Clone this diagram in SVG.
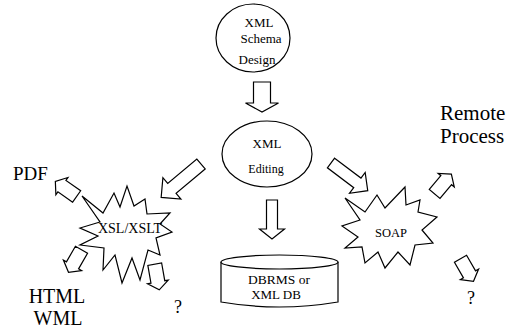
<svg xmlns="http://www.w3.org/2000/svg" width="516" height="329" viewBox="0 0 516 329">
<style>
.s{fill:#fff;stroke:#000;stroke-width:1.2;stroke-linejoin:miter}
.t{font-family:"Liberation Serif","Times New Roman",serif;fill:#000;text-anchor:middle}
.lbl{font-family:"Liberation Serif","Times New Roman",serif;fill:#000}
</style>
<defs>
<path id="sm" d="M-13,-7 H5 V-10.5 L13,0 L5,10.5 V7 H-13 Z"/>
</defs>
<rect width="516" height="329" fill="#fff"/>
<g id="schema">
<ellipse class="s" cx="253" cy="38" rx="37" ry="34"/>
<text class="t" x="259" y="27" font-size="13">XML</text>
<text class="t" x="261" y="43" font-size="13">Schema</text>
<text class="t" x="257" y="64" font-size="13">Design</text>
</g>
<g id="editing">
<ellipse class="s" cx="267" cy="154" rx="45" ry="33"/>
<text class="t" x="267" y="148" font-size="13">XML</text>
<text class="t" x="266" y="173" font-size="12">Editing</text>
</g>
<g id="db">
<path class="s" d="M221,262 V302 Q279,312 338,302 V262"/>
<ellipse class="s" cx="279.5" cy="262" rx="58.5" ry="7"/>
<text class="t" x="279" y="284" font-size="13.5">DBRMS or</text>
<text class="t" x="276" y="299" font-size="13">XML DB</text>
</g>
<g id="xsl">
<polygon class="s" points="82,196 103,213 114,193 120,207 127,186 134,206 145,199 147,214 170,213 160,224 172,232 156,238 160,255 148,250 140,280 132,258 122,283 115,255 103,270 104,248 80,245 98,236 80,228 100,222"/>
<text class="t" x="130" y="233" font-size="14">XSL/XSLT</text>
</g>
<g id="soap">
<polygon class="s" points="345,198 365,212 377,195 385,208 405,187 406,205 420,200 418,212 437,217 422,230 433,243 415,245 410,265 398,252 385,268 378,252 365,263 362,247 345,248 358,237 342,226 360,220"/>
<text class="t" x="391" y="237" font-size="12.5">SOAP</text>
</g>
<g id="pdf"><text class="lbl" x="13" y="180" font-size="19">PDF</text></g>
<g id="html"><text class="t" x="57" y="303" font-size="20">HTML</text><text class="t" x="58" y="325" font-size="20">WML</text></g>
<g id="q1"><text class="t" x="178" y="313" font-size="18">?</text></g>
<g id="remote"><text class="lbl" x="440" y="120" font-size="21">Remote</text><text class="lbl" x="440" y="143" font-size="21">Process</text></g>
<g id="q2"><text class="t" x="471" y="304" font-size="18">?</text></g>
<g id="connectors">
<path class="s" d="M0,-8.5 H21 V-16.5 L30,0 L21,16.5 V8.5 H0 Z" transform="translate(262,82) rotate(90)"/>
<path class="s" d="M0,-5.5 H29 V-12.5 L39,0 L29,12.5 V5.5 H0 Z" transform="translate(272,200) rotate(90)"/>
<path class="s" d="M0,-6.5 H38 V-14 L52,0 L38,14 V6.5 H0 Z" transform="translate(201,164) rotate(140)"/>
<path class="s" d="M0,-6 H33 V-13 L46,0 L33,13 V6 H0 Z" transform="translate(331,163) rotate(37)"/>
<use class="s" href="#sm" transform="translate(66,189) rotate(215)"/>
<use class="s" href="#sm" transform="translate(75,261) rotate(120)"/>
<use class="s" href="#sm" transform="translate(157,277) rotate(80)"/>
<use class="s" href="#sm" transform="translate(443,184) rotate(-50)"/>
<use class="s" href="#sm" transform="translate(467,270) rotate(60)"/>
</g>
</svg>
